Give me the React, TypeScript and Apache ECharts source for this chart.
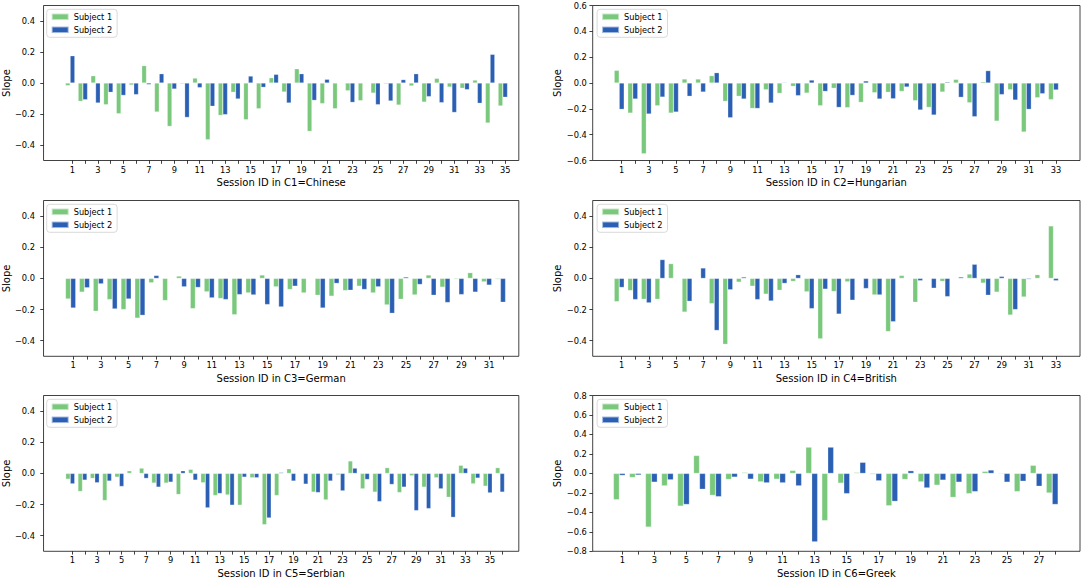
import React, { useEffect, useRef } from "react";
import * as echarts from "echarts";

// ---- data ----
const xTitles = [
  "Session ID in C1=Chinese",
  "Session ID in C2=Hungarian",
  "Session ID in C3=German",
  "Session ID in C4=British",
  "Session ID in C5=Serbian",
  "Session ID in C6=Greek",
];
const seriesNames = ["Subject 1", "Subject 2"];

const c1s1 = [-0.017, -0.118, 0.047, -0.14, -0.198, -0.013, 0.112, -0.187, -0.28, -0.006, 0.032, -0.366, -0.209, -0.06, -0.237, -0.166, 0.034, -0.058, 0.092, -0.312, -0.133, -0.166, -0.05, -0.114, -0.065, -0.006, -0.142, -0.019, -0.123, 0.03, -0.026, -0.034, 0.019, -0.258, -0.148];
const c1s2 = [0.176, -0.108, -0.129, -0.06, -0.08, -0.075, -0.01, 0.06, -0.039, -0.222, -0.03, -0.15, -0.204, -0.103, 0.045, -0.028, 0.056, -0.129, 0.06, -0.112, 0.024, -0.003, -0.125, -0.002, -0.14, -0.116, 0.022, 0.06, -0.088, -0.127, -0.19, -0.043, -0.131, 0.185, -0.092];

const c2s1 = [0.098, -0.233, -0.548, -0.176, -0.233, 0.031, 0.031, 0.057, -0.142, -0.103, -0.197, -0.052, -0.08, -0.026, -0.078, -0.176, -0.041, -0.191, -0.15, -0.075, -0.072, -0.065, -0.137, -0.189, -0.07, 0.028, -0.153, 0.01, -0.295, -0.052, -0.38, -0.114, -0.129];
const c2s2 = [-0.204, -0.124, -0.24, -0.109, -0.225, -0.103, -0.07, 0.08, -0.269, -0.124, -0.197, -0.155, 0.005, -0.098, 0.023, -0.065, -0.189, -0.096, 0.016, -0.124, -0.122, -0.031, -0.209, -0.248, 0.008, -0.111, -0.261, 0.096, -0.09, -0.132, -0.204, -0.083, -0.054];

const c3s1 = [-0.132, -0.088, -0.211, -0.136, -0.2, -0.255, -0.028, -0.142, 0.015, -0.194, -0.086, -0.129, -0.233, -0.093, 0.022, -0.054, -0.071, -0.093, -0.108, -0.114, -0.078, -0.05, -0.093, -0.17, -0.134, -0.106, 0.022, -0.056, -0.006, 0.037, -0.022, -0.006];
const c3s2 = [-0.19, -0.06, -0.035, -0.196, -0.132, -0.237, 0.019, -0.002, -0.054, -0.058, -0.125, -0.136, -0.104, -0.106, -0.168, -0.183, -0.05, 0.003, -0.19, -0.032, -0.076, -0.071, -0.054, -0.224, 0.009, -0.039, -0.108, -0.155, -0.104, -0.088, -0.043, -0.153];

const c4s1 = [-0.149, -0.078, -0.134, -0.134, 0.095, -0.216, -0.002, -0.162, -0.423, -0.024, -0.05, -0.101, -0.076, -0.019, -0.086, -0.388, -0.084, -0.022, 0.002, -0.106, -0.341, 0.019, -0.153, -0.002, -0.019, 0.002, 0.028, -0.03, -0.088, -0.235, -0.119, 0.024, 0.337];
const c4s2 = [-0.058, -0.136, -0.157, 0.121, -0.002, -0.147, 0.067, -0.334, -0.073, 0.009, -0.136, -0.145, -0.032, 0.024, -0.194, -0.069, -0.229, -0.14, -0.065, -0.106, -0.278, -0.002, -0.015, -0.063, -0.117, 0.009, 0.091, -0.108, 0.013, -0.2, -0.006, -0.002, -0.015];

const c5s1 = [-0.037, -0.116, -0.032, -0.174, -0.024, 0.017, 0.034, -0.062, -0.062, -0.135, 0.026, -0.06, -0.142, -0.138, -0.204, -0.028, -0.329, -0.142, 0.03, -0.002, -0.12, -0.17, -0.009, 0.08, -0.099, -0.12, 0.037, -0.123, -0.015, -0.088, -0.028, -0.153, 0.052, -0.067, -0.082, 0.037];
const c5s2 = [-0.067, -0.043, -0.06, -0.049, -0.084, -0.001, -0.032, -0.088, -0.056, 0.017, -0.043, -0.221, -0.129, -0.204, -0.024, -0.028, -0.286, 0.006, -0.049, -0.069, -0.123, -0.049, -0.112, 0.034, -0.039, -0.181, -0.071, -0.088, -0.239, -0.226, -0.099, -0.282, 0.034, -0.03, -0.125, -0.12];

const c6s1 = [-0.27, -0.042, -0.551, -0.128, -0.336, 0.184, -0.225, -0.062, 0.01, -0.087, -0.059, 0.031, 0.27, -0.485, -0.1, 0.01, -0.01, -0.332, -0.062, -0.087, -0.121, -0.246, -0.208, 0.021, 0.007, -0.187, 0.083, -0.201];
const c6s2 = [-0.021, -0.017, -0.09, -0.066, -0.319, -0.163, -0.239, -0.038, -0.059, -0.097, -0.097, -0.128, -0.703, 0.27, -0.208, 0.114, -0.076, -0.287, 0.028, -0.149, -0.069, -0.09, -0.187, 0.035, -0.09, -0.08, -0.132, -0.319];

const subject1 = [c1s1, c2s1, c3s1, c4s1, c5s1, c6s1];
const subject2 = [c1s2, c2s2, c3s2, c4s2, c5s2, c6s2];

const yTicks5 = [-0.4, -0.2, 0, 0.2, 0.4];
const yTicks6 = [-0.6, -0.4, -0.2, 0, 0.2, 0.4, 0.6];
const yTicks8 = [-0.8, -0.6, -0.4, -0.2, 0, 0.2, 0.4, 0.6, 0.8];
const yTicksPerPanel = [yTicks5, yTicks6, yTicks5, yTicks5, yTicks5, yTicks8];
const yLimits = [0.5, 0.6, 0.5, 0.5, 0.5, 0.8];

// ---- layout / style ----
const GREEN = "#79c87b";
const BLUE = "#2a5fb3";
const FONT = "DejaVu Sans";
const BAR_FRAC = 0.37;

const frames = [
  { left: 42.3, top: 5.5, width: 476.5, height: 155, xMin: -1.273, xMax: 36.07, labelGap: 8.5 },
  { left: 592.7, top: 5.5, width: 487.3, height: 155, xMin: -1.137, xMax: 34.77, labelGap: 5.8 },
  { left: 42.3, top: 200.5, width: 476.5, height: 155.8, xMin: -1.137, xMax: 33.14, labelGap: 8.5 },
  { left: 592.7, top: 200.5, width: 487.3, height: 155.8, xMin: -1.137, xMax: 34.77, labelGap: 5.8 },
  { left: 42.3, top: 395.5, width: 476.5, height: 155.8, xMin: -1.356, xMax: 37.35, labelGap: 8.5 },
  { left: 592.7, top: 395.5, width: 487.3, height: 155.8, xMin: -0.847, xMax: 29.55, labelGap: 5.8 },
];

const fmtY = (v: number) => {
  if (Math.abs(v) < 1e-9) return "0.0";
  return (v < 0 ? "\u2212" : "") + Math.abs(v).toFixed(1);
};

function buildOption() {
  const grid: any[] = [];
  const xAxis: any[] = [];
  const yAxis: any[] = [];
  const legend: any[] = [];
  const series: any[] = [];

  frames.forEach((f, i) => {
    const ids = subject1[i].map((_, k) => k + 1);
    const oddIds = ids.filter((d) => d % 2 === 1);
    const step = f.width / (f.xMax - f.xMin);
    const barW = BAR_FRAC * step;
    const yl = yLimits[i];
    const yt = yTicksPerPanel[i];

    grid.push({
      left: f.left,
      top: f.top,
      width: f.width,
      height: f.height,
      show: true,
      borderColor: "#111",
      borderWidth: 0.8,
      backgroundColor: "transparent",
      containLabel: false,
    });

    xAxis.push({
      type: "value",
      gridIndex: i,
      position: "bottom",
      min: f.xMin,
      max: f.xMax,
      axisLine: { show: false, onZero: false },
      splitLine: { show: false },
      axisTick: {
        show: true,
        customValues: ids,
        length: 3.3,
        lineStyle: { color: "#111", width: 0.8 },
      },
      axisLabel: {
        show: true,
        customValues: oddIds,
        fontSize: 8.3,
        color: "#000",
        fontFamily: FONT,
        margin: 5,
        formatter: (v: number) => String(Math.round(v)),
      },
      name: xTitles[i],
      nameLocation: "middle",
      nameGap: 17,
      nameTextStyle: { fontSize: 10, color: "#000", fontFamily: FONT },
    });
    xAxis.push({
      type: "value",
      gridIndex: i,
      position: "bottom",
      min: f.xMin,
      max: f.xMax,
      show: false,
      axisLine: { show: false, onZero: false },
    });

    yAxis.push({
      type: "value",
      gridIndex: i,
      position: "left",
      min: -yl,
      max: yl,
      axisLine: { show: false, onZero: false },
      splitLine: { show: false },
      axisTick: {
        show: true,
        customValues: yt,
        length: 3.3,
        lineStyle: { color: "#111", width: 0.8 },
      },
      axisLabel: {
        show: true,
        customValues: yt,
        fontSize: 8.3,
        color: "#000",
        fontFamily: FONT,
        margin: f.labelGap,
        formatter: fmtY,
      },
      name: "Slope",
      nameLocation: "middle",
      nameGap: 21,
      nameTextStyle: { fontSize: 10, color: "#000", fontFamily: FONT },
    });

    legend.push({
      left: f.left + 4.4,
      top: f.top + 3.8,
      orient: "vertical",
      data: seriesNames,
      icon: "rect",
      itemWidth: 17,
      itemHeight: 6.5,
      itemGap: 3,
      padding: [2.5, 5, 2.5, 4],
      borderColor: "#cfcfcf",
      borderWidth: 0.8,
      borderRadius: 3,
      backgroundColor: "rgba(255,255,255,0.85)",
      selectedMode: false,
      textStyle: { fontSize: 8.2, color: "#000", fontFamily: FONT, lineHeight: 10 },
    });

    series.push({
      type: "bar",
      name: seriesNames[0],
      xAxisIndex: 2 * i + 1,
      yAxisIndex: i,
      barWidth: barW,
      silent: true,
      itemStyle: { color: GREEN, borderColor: "rgba(255,255,255,0.55)", borderWidth: 0.5 },
      data: subject1[i].map((v, k) => [ids[k] - BAR_FRAC, v]),
    });
    series.push({
      type: "bar",
      name: seriesNames[1],
      xAxisIndex: 2 * i,
      yAxisIndex: i,
      barWidth: barW,
      silent: true,
      itemStyle: { color: BLUE, borderColor: "rgba(255,255,255,0.55)", borderWidth: 0.5 },
      data: subject2[i].map((v, k) => [ids[k], v]),
    });
  });

  return {
    animation: false,
    backgroundColor: "#fff",
    textStyle: { fontFamily: FONT },
    grid,
    xAxis,
    yAxis,
    legend,
    series,
  };
}

export default function App() {
  const ref = useRef<HTMLDivElement>(null);
  useEffect(() => {
    if (!ref.current) return;
    const chart = echarts.init(ref.current, undefined, { renderer: "svg" });
    chart.setOption(buildOption() as any);
    return () => chart.dispose();
  }, []);
  return (
    <div
      ref={ref}
      style={{ position: "fixed", left: 0, top: 0, width: 1084, height: 581, background: "#fff" }}
    />
  );
}
